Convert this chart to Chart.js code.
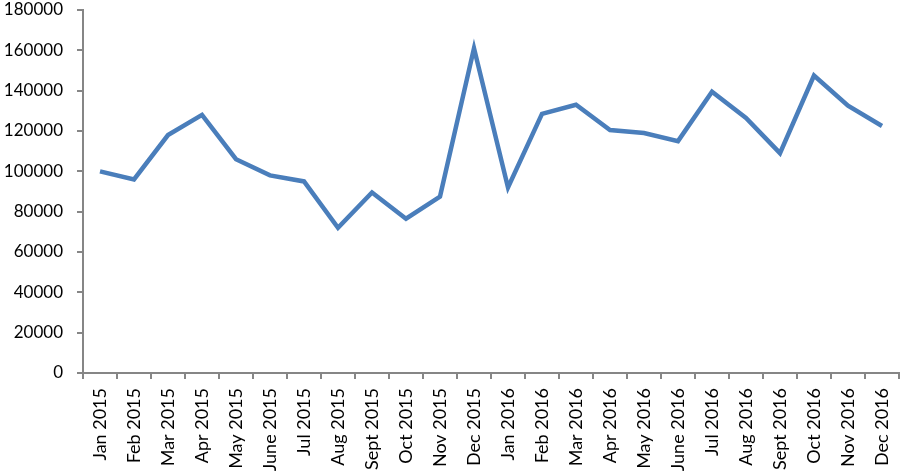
<!DOCTYPE html>
<html>
<head>
<meta charset="utf-8">
<script src="https://cdn.jsdelivr.net/npm/chart.js@4"></script>
<style>
  html, body { margin: 0; padding: 0; background: #fff; }
  #wrap { width: 902px; height: 476px; position: relative; }
</style>
</head>
<body>
<div id="wrap"><canvas id="salesChart"></canvas></div>
<script>
const months = [
    'Jan 2015', 'Feb 2015', 'Mar 2015', 'Apr 2015', 'May 2015', 'June 2015',
    'Jul 2015', 'Aug 2015', 'Sept 2015', 'Oct 2015', 'Nov 2015', 'Dec 2015',
    'Jan 2016', 'Feb 2016', 'Mar 2016', 'Apr 2016', 'May 2016', 'June 2016',
    'Jul 2016', 'Aug 2016', 'Sept 2016', 'Oct 2016', 'Nov 2016', 'Dec 2016'
];
const values = [
    100000, 96000, 118000, 128000, 106000, 98000,
    95000, 72000, 89500, 76500, 87500, 161000,
    92000, 128500, 133000, 120500, 119000, 115000,
    139500, 126500, 109000, 147500, 132500, 122500
];
const yMin = 0;
const yMax = 180000;
const yStep = 20000;

const axisColor = '#868686';
const fontFamily = 'Lato, "Open Sans", sans-serif';

const ctx = document.getElementById('salesChart').getContext('2d');
const salesChart = new Chart(ctx, {
    type: 'line',
    data: {
        labels: months,
        datasets: [{
            data: values,
            borderColor: '#4a7ebb',
            borderWidth: 4.5,
            pointRadius: 0,
            tension: 0,
            fill: false
        }]
    },
    options: {
        responsive: true,
        maintainAspectRatio: false,
        animation: false,
        layout: { padding: { top: 0, right: 3, left: 0, bottom: 0 } },
        plugins: {
            legend: { display: false },
            tooltip: { enabled: false }
        },
        scales: {
            x: {
                offset: true,
                afterFit: scale => {
                    scale.height = 103;
                    scale.paddingLeft = 0;
                    scale.paddingRight = 0;
                },
                grid: {
                    offset: true,
                    drawOnChartArea: false,
                    drawTicks: true,
                    tickLength: 6,
                    color: axisColor,
                    lineWidth: 2
                },
                border: { color: axisColor, width: 2 },
                ticks: {
                    color: '#000',
                    font: { family: fontFamily, size: 18 },
                    minRotation: 90,
                    maxRotation: 90,
                    autoSkip: false,
                    padding: 9
                }
            },
            y: {
                min: yMin,
                max: yMax,
                afterFit: scale => {
                    scale.width = 83;
                    scale.paddingTop = 10;
                },
                grid: {
                    drawOnChartArea: false,
                    drawTicks: true,
                    tickLength: 6,
                    color: axisColor,
                    lineWidth: 2
                },
                border: { color: axisColor, width: 2 },
                ticks: {
                    stepSize: yStep,
                    color: '#000',
                    font: { family: fontFamily, size: 17 },
                    padding: 14,
                    callback: v => String(v)
                }
            }
        }
    }
});
</script>
</body>
</html>
